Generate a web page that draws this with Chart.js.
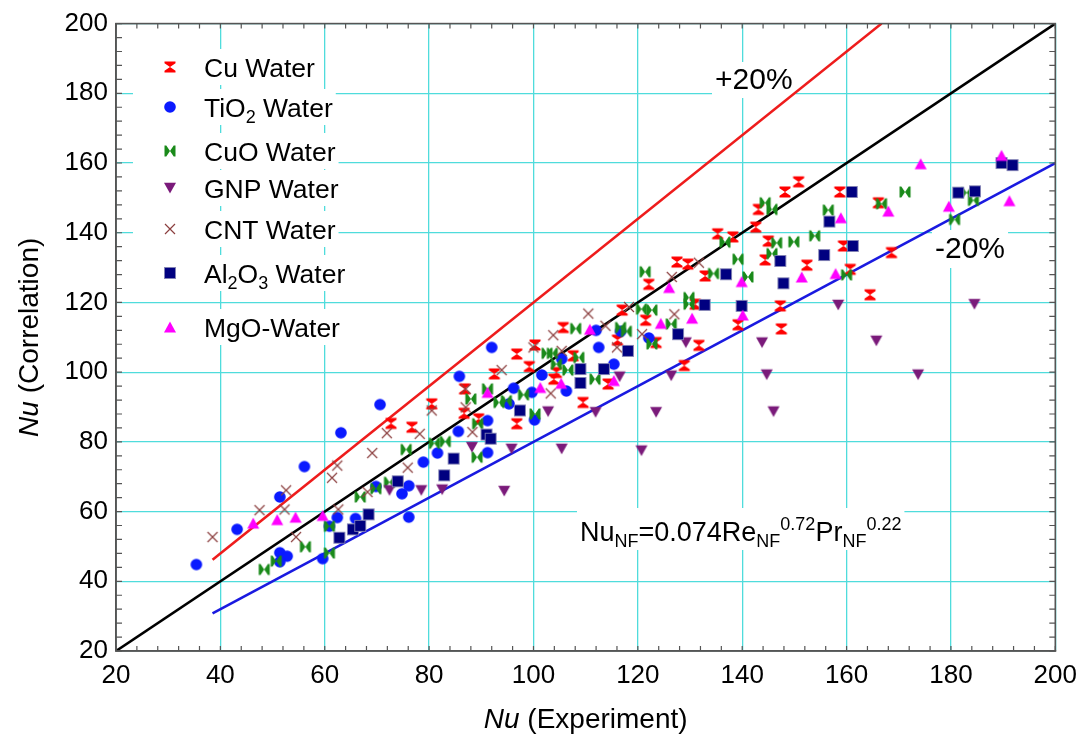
<!DOCTYPE html>
<html><head><meta charset="utf-8">
<script src="https://cdn.jsdelivr.net/npm/chart.js@4/dist/chart.umd.min.js"></script>
<style>html,body{margin:0;padding:0;background:#fff;}#wrap{width:1086px;height:738px;position:relative;}</style>
</head><body><div id="wrap"><canvas id="c" width="1086" height="738"></canvas></div>
<script>
// ---------------- data ----------------
const axisMin = 20, axisMax = 200, majorStep = 20, minorStep = 4;

const cuWater = [[72.7,85.3],[76.7,84.2],[80.5,90.9],[86.8,95.2],[86.7,88.2],[89.5,86.6],[92.5,99.5],[96.8,105.2],[96.8,85.2],[99.2,101.6],[100.3,107.8],[103.9,98.0],[104.4,99.9],[105.7,112.8],[107.6,104.7],[109.5,91.3],[114.3,96.6],[116.1,109.2],[117.0,117.8],[121.5,114.9],[122.1,125.2],[123.5,108.5],[127.5,131.6],[128.9,101.9],[129.6,131.0],[131.0,119.5],[131.7,107.7],[132.9,127.6],[135.3,139.7],[138.2,138.8],[139.2,113.6],[142.6,141.6],[143.1,146.7],[144.4,132.2],[145.0,137.6],[147.3,119.0],[147.5,112.4],[148.2,151.7],[150.8,154.6],[152.4,130.7],[158.7,151.7],[159.4,136.2],[160.7,129.5],[164.5,122.2],[166.1,148.6],[168.6,134.3]];

const tio2Water = [[35.4,44.8],[43.2,54.9],[51.4,64.2],[56.1,72.9],[63.1,82.6],[70.6,90.7],[51.4,48.2],[52.8,47.2],[51.4,45.6],[59.6,46.5],[60.9,55.8],[62.4,58.3],[65.9,58.0],[69.8,67.2],[74.8,65.1],[76.1,67.4],[76.1,58.4],[78.9,74.2],[81.6,76.8],[85.6,83.0],[85.8,98.8],[91.2,76.9],[91.2,86.1],[92.0,107.1],[95.3,90.9],[96.2,95.4],[99.7,94.2],[100.2,86.3],[101.6,99.2],[105.4,103.8],[106.3,94.6],[112.5,107.1],[115.4,102.3],[116.7,111.7],[112.0,112.0],[122.1,109.8]];

const cuoWater = [[48.4,43.4],[50.7,45.8],[56.3,49.9],[60.9,48.1],[60.9,55.8],[66.8,64.2],[69.8,66.6],[72.4,68.4],[75.6,77.8],[81.0,79.6],[83.1,80.1],[88.0,92.3],[89.2,75.6],[89.3,85.2],[91.2,95.2],[93.4,91.3],[94.8,91.8],[98.1,93.5],[100.3,88.0],[102.6,105.4],[103.6,105.4],[104.4,102.3],[106.6,100.6],[108.1,112.5],[108.7,104.2],[111.8,98.0],[116.7,112.8],[117.8,111.7],[120.7,118.1],[122.7,117.8],[122.7,108.1],[121.4,128.8],[126.4,113.8],[129.8,121.4],[129.8,119.5],[134.5,128.3],[136.7,137.3],[139.2,132.4],[141.1,127.3],[144.4,148.6],[145.7,146.7],[145.7,134.0],[146.6,137.1],[149.9,137.4],[153.9,139.1],[156.5,146.5],[160.0,127.9],[166.7,148.3],[171.2,151.7],[180.7,143.8],[183.0,151.5],[184.3,149.3]];

const gnpWater = [[72.4,66.1],[78.5,66.1],[82.5,66.3],[88.2,78.5],[94.4,65.9],[95.8,78.0],[102.8,88.7],[105.4,78.0],[111.9,88.5],[116.5,98.7],[120.7,77.5],[123.5,88.5],[126.4,99.0],[129.2,108.5],[143.8,108.5],[144.7,99.3],[146.0,88.7],[158.4,119.3],[165.7,109.0],[173.7,99.3],[184.5,119.5]];

const cntWater = [[38.5,52.7],[47.5,60.4],[52.6,66.1],[52.3,60.6],[54.5,52.7],[61.4,69.7],[62.4,73.2],[62.6,60.6],[68.2,65.6],[69.1,76.8],[71.9,82.5],[75.9,72.6],[78.2,82.3],[80.5,89.0],[87.0,95.2],[87.0,89.9],[88.3,82.8],[93.9,100.6],[100.0,107.1],[103.3,93.9],[103.8,110.6],[105.4,106.1],[110.5,116.8],[113.8,113.3],[116.0,107.1],[118.3,118.7],[120.8,110.9],[126.5,127.3],[127.0,116.6],[131.7,131.4]];

const al2o3Water = [[62.8,52.5],[65.4,54.9],[66.8,55.9],[68.4,59.2],[74.0,68.7],[82.9,70.4],[84.7,75.2],[91.0,82.1],[91.8,80.9],[97.4,89.0],[109.0,100.9],[109.0,96.9],[113.5,100.9],[118.1,106.1],[127.7,110.9],[132.8,119.3],[136.9,128.1],[139.9,119.0],[147.3,131.9],[147.9,125.5],[155.7,133.6],[156.7,143.2],[161.0,151.7],[161.2,136.2],[181.4,151.5],[184.6,151.9],[189.7,160.0],[191.8,159.4]];

const mgoWater = [[46.3,56.7],[50.9,57.7],[54.4,58.4],[59.6,58.9],[91.2,94.2],[101.3,95.6],[105.3,96.8],[110.8,112.3],[115.4,97.6],[124.4,114.0],[126.0,124.3],[130.4,115.5],[139.9,126.0],[140.1,116.4],[151.4,127.3],[157.9,128.3],[158.9,144.3],[168.0,146.2],[174.2,159.8],[179.6,147.6],[189.7,162.2],[191.2,149.2]];

const unityLine   = [[20,20],[200,200]];
const plus20Line  = [[38.5,46.2],[166.7,200]];
const minus20Line = [[38.5,30.8],[200,160]];

const legendLabels = [
  [['Cu Water','n']],
  [['TiO','n'],['2','sub'],[' Water','n']],
  [['CuO Water','n']],
  [['GNP Water','n']],
  [['CNT Water','n']],
  [['Al','n'],['2','sub'],['O','n'],['3','sub'],[' Water','n']],
  [['MgO-Water','n']]
];
const plusLabel = '+20%', minusLabel = '-20%';
const formulaParts = [['Nu','n'],['NF','sub'],['=0.074Re','n'],['NF','sub'],['0.72','sup'],['Pr','n'],['NF','sub'],['0.22','sup']];
const xTitle = [['Nu','i'],[' (Experiment)','n']];
const yTitle = [['Nu','i'],[' (Correlation)','n']];

// ---------------- markers ----------------
const FONT = "'Liberation Sans', Arial, sans-serif";
function mk(draw){ const c=document.createElement('canvas'); c.width=14; c.height=14; const g=c.getContext('2d'); draw(g); return c; }
function poly(g, pts){ g.beginPath(); g.moveTo(pts[0][0],pts[0][1]); for(let i=1;i<pts.length;i++) g.lineTo(pts[i][0],pts[i][1]); g.closePath(); g.fill(); }
const mCu = mk(g=>{ g.fillStyle='#ff0000'; poly(g,[[1.5,1.5],[12.5,1.5],[12.5,3.3],[7,7],[12.5,10.7],[12.5,12.5],[1.5,12.5],[1.5,10.7],[7,7],[1.5,3.3]]); });
const mCuO = mk(g=>{ g.fillStyle='#1a8a1a'; poly(g,[[1.5,1.5],[3.3,1.5],[7,7],[10.7,1.5],[12.5,1.5],[12.5,12.5],[10.7,12.5],[7,7],[3.3,12.5],[1.5,12.5]]); });
const mTiO2 = mk(g=>{ g.fillStyle='#0a1aff'; g.beginPath(); g.arc(7,7,5.8,0,Math.PI*2); g.fill(); });
const mAl = mk(g=>{ g.fillStyle='#000080'; g.fillRect(1.5,1.5,11,11); g.strokeStyle='rgba(130,130,180,0.9)'; g.lineWidth=1; g.strokeRect(1.5,1.5,11,11); });
const mMgO = mk(g=>{ g.fillStyle='#ff00ff'; poly(g,[[7,1.5],[13,12.5],[1,12.5]]); });
const mGNP = mk(g=>{ g.fillStyle='#7a1a7a'; poly(g,[[1,1.8],[13,1.8],[7,12.5]]); });
const mCNT = mk(g=>{ g.strokeStyle='#8b3f3f'; g.lineWidth=1.2; g.beginPath(); g.moveTo(2,2); g.lineTo(12,12); g.moveTo(12,2); g.lineTo(2,12); g.stroke(); });
const legendMarkers = [mCu, mTiO2, mCuO, mGNP, mCNT, mAl, mMgO];

const toXY = a => a.map(p => ({x:p[0], y:p[1]}));
function sc(data, style, order){ return {data: toXY(data), pointStyle: style, pointRadius: 6, showLine:false, order: order}; }
function ln(data, color, order){ return {data: toXY(data), showLine:true, borderColor: color, borderWidth: 2.6, pointRadius: 0, fill:false, order: order}; }

// ---------------- text helpers ----------------
function fontFor(k,size,small){
  if(k==='sub'||k==='sup') return small+'px '+FONT;
  if(k==='i') return 'italic '+size+'px '+FONT;
  return size+'px '+FONT;
}
function runWidth(ctx, parts, size, small){
  let w=0; for(const [t,k] of parts){ ctx.font = fontFor(k,size,small); w += ctx.measureText(t).width; } return w;
}
function drawRun(ctx, parts, x, y, size, small, subOff, supOff){
  ctx.textBaseline='alphabetic'; ctx.textAlign='left'; ctx.fillStyle='#000';
  for(const [t,k] of parts){
    ctx.font = fontFor(k,size,small);
    let dy = 0; if(k==='sub') dy = subOff; if(k==='sup') dy = -supOff;
    ctx.fillText(t, x, y+dy); x += ctx.measureText(t).width;
  }
  return x;
}

// layout constants
const legendX = 170, legendTextX = 204, legendY = [67,107,151,188,229,273,327];
const LEG = 26.5, LEGS = 18;
const formulaX = 580, formulaBase = 541, FM = 27, FMS = 18;

const decor = {
  id:'decor',
  beforeDatasetsDraw(chart){
    const ctx = chart.ctx; ctx.save(); ctx.fillStyle='#fff';
    legendLabels.forEach((parts,i)=>{
      const w = runWidth(ctx, parts, LEG, LEGS);
      ctx.fillRect(133, legendY[i]-18, legendTextX + w + 3 - 133, 36);
    });
    ctx.font = '30px '+FONT;
    let w = ctx.measureText(plusLabel).width; ctx.fillRect(712, 62, w+6, 36);
    w = ctx.measureText(minusLabel).width; ctx.fillRect(932, 230, w+6, 38);
    w = runWidth(ctx, formulaParts, FM, FMS); ctx.fillRect(formulaX-3, 508, w+6, 42);
    ctx.restore();
  },
  afterDatasetsDraw(chart){
    const ctx = chart.ctx; ctx.save();
    legendLabels.forEach((parts,i)=>{
      const m = legendMarkers[i];
      ctx.drawImage(m, legendX - m.width/2, legendY[i] - m.height/2);
      drawRun(ctx, parts, legendTextX, legendY[i]+9.5, LEG, LEGS, 6, 10);
    });
    ctx.fillStyle='#000'; ctx.font='30px '+FONT; ctx.textBaseline='middle'; ctx.textAlign='left';
    ctx.fillText(plusLabel, 715, 81);
    ctx.fillText(minusLabel, 935, 250);
    drawRun(ctx, formulaParts, formulaX, formulaBase, FM, FMS, 6, 11);
    ctx.restore();
  },
  afterDraw(chart){
    const ctx = chart.ctx, a = chart.chartArea, xs = chart.scales.x, ys = chart.scales.y;
    ctx.save();
    ctx.strokeStyle='#555'; ctx.lineWidth=1.2;
    ctx.beginPath();
    for(let v=axisMin; v<=axisMax; v+=minorStep){
      const px = xs.getPixelForValue(v), py = ys.getPixelForValue(v);
      ctx.moveTo(px, a.bottom); ctx.lineTo(px, a.bottom-5);
      ctx.moveTo(px, a.top); ctx.lineTo(px, a.top+5);
      ctx.moveTo(a.left, py); ctx.lineTo(a.left+6, py);
      ctx.moveTo(a.right, py); ctx.lineTo(a.right-6, py);
    }
    ctx.stroke();
    ctx.lineWidth=1.6; ctx.strokeRect(a.left, a.top, a.right-a.left, a.bottom-a.top);
    const xw = runWidth(ctx, xTitle, 28, 18);
    drawRun(ctx, xTitle, (a.left+a.right)/2 - xw/2, 728, 28, 18, 0, 0);
    ctx.translate(38, (a.top+a.bottom)/2); ctx.rotate(-Math.PI/2);
    const yw = runWidth(ctx, yTitle, 28, 18);
    drawRun(ctx, yTitle, -yw/2, 0, 28, 18, 0, 0);
    ctx.restore();
  }
};

const gridColor = '#4fdcdc';
new Chart(document.getElementById('c'), {
  type:'scatter',
  data:{ datasets:[
    sc(cuWater, mCu, 7), sc(tio2Water, mTiO2, 6), sc(cuoWater, mCuO, 5), sc(gnpWater, mGNP, 4),
    sc(cntWater, mCNT, 3), sc(al2o3Water, mAl, 2), sc(mgoWater, mMgO, 1),
    ln(unityLine, '#000000', 10), ln(plus20Line, '#ee1c1c', 11), ln(minus20Line, '#1a1ae0', 12)
  ]},
  options:{
    responsive:false, animation:false, devicePixelRatio:1, events:[],
    layout:{ padding:{ left:0, top:21, right:29, bottom:0 } },
    plugins:{ legend:{display:false}, tooltip:{enabled:false} },
    scales:{
      x:{ type:'linear', min:axisMin, max:axisMax,
          ticks:{ stepSize:majorStep, font:{family:FONT, size:26}, color:'#000', padding:9 },
          grid:{ color:gridColor, lineWidth:1.3, drawTicks:false },
          border:{ display:true, color:'#555', width:1.6 },
          afterFit(s){ s.height = 87; } },
      y:{ type:'linear', min:axisMin, max:axisMax,
          ticks:{ stepSize:majorStep, font:{family:FONT, size:26}, color:'#000', padding:8 },
          grid:{ color:gridColor, lineWidth:1.3, drawTicks:false },
          border:{ display:true, color:'#555', width:1.6 },
          afterFit(s){ s.width = 116; } }
    }
  },
  plugins:[decor]
});
</script></body></html>
